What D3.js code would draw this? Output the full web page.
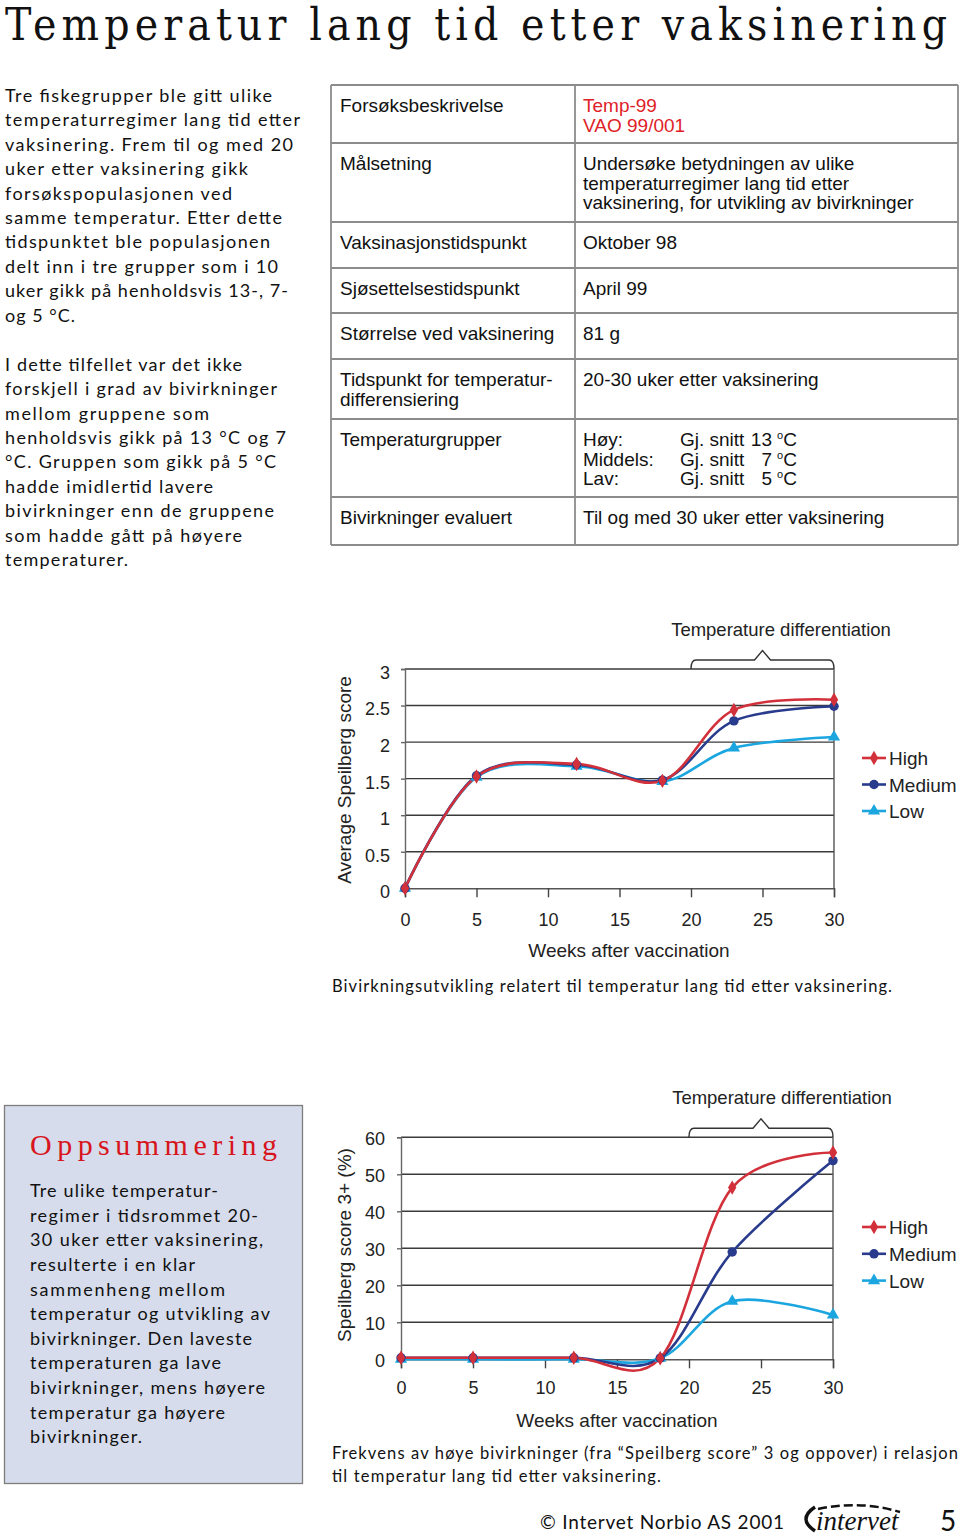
<!DOCTYPE html>
<html><head><meta charset="utf-8">
<script src="https://cdn.jsdelivr.net/npm/d3@7"></script>
<style>
html,body{margin:0;padding:0;background:#fff;}
svg{display:block;}
</style></head>
<body>
<script>
// ---------- DATA ----------
const seriesNames = ["High", "Medium", "Low"];
const weeks = [0, 5, 12, 18, 23, 30];
const scoreHigh = [0, 1.53, 1.70, 1.47, 2.44, 2.58];
const scoreMedium = [0, 1.54, 1.69, 1.48, 2.29, 2.49];
const scoreLow = [0, 1.52, 1.67, 1.46, 1.92, 2.07];
const pctHigh = [0.4, 0.4, 0.4, 0.3, 46.4, 55.9];
const pctMedium = [0.4, 0.4, 0.4, 0.3, 29.0, 53.7];
const pctLow = [0, 0, 0, 0.3, 15.7, 12.0];
const weekTicks = [0, 5, 10, 15, 20, 25, 30];
const scoreTicks = [0, 0.5, 1, 1.5, 2, 2.5, 3];
const pctTicks = [0, 10, 20, 30, 40, 50, 60];
const diffRange = [20, 30];

const titleText = "Temperatur lang tid etter vaksinering";
const introLines = [
  "Tre fiskegrupper ble gitt ulike", "temperaturregimer lang tid etter", "vaksinering. Frem til og med 20",
  "uker etter vaksinering gikk", "forsøkspopulasjonen ved", "samme temperatur. Etter dette",
  "tidspunktet ble populasjonen", "delt inn i tre grupper som i 10", "uker gikk på henholdsvis 13-, 7-",
  "og 5 °C.", "", "I dette tilfellet var det ikke", "forskjell i grad av bivirkninger",
  "mellom gruppene som", "henholdsvis gikk på 13 °C og 7", "°C. Gruppen som gikk på 5 °C",
  "hadde imidlertid lavere", "bivirkninger enn de gruppene", "som hadde gått på høyere", "temperaturer."
];
const introWidths = [267, 295, 288, 243, 227, 277, 265, 273, 283, 70, 0, 237, 272, 204, 281, 271, 208, 269, 237, 123];
const summaryTitle = "Oppsummering";
const summaryLines = [
  "Tre ulike temperatur-", "regimer i tidsrommet 20-", "30 uker etter vaksinering,", "resulterte i en klar",
  "sammenheng mellom", "temperatur og utvikling av", "bivirkninger. Den laveste", "temperaturen ga lave",
  "bivirkninger, mens høyere", "temperatur ga høyere", "bivirkninger."
];
const summaryWidths = [188, 228, 233, 165, 195, 240, 222, 191, 235, 195, 112];
const tableRows = [
  {left: ["Forsøksbeskrivelse"], right: ["Temp-99", "VAO 99/001"], red: true},
  {left: ["Målsetning"], right: ["Undersøke betydningen av ulike", "temperaturregimer lang tid etter", "vaksinering, for utvikling av bivirkninger"]},
  {left: ["Vaksinasjonstidspunkt"], right: ["Oktober 98"]},
  {left: ["Sjøsettelsestidspunkt"], right: ["April 99"]},
  {left: ["Størrelse ved vaksinering"], right: ["81 g"]},
  {left: ["Tidspunkt for temperatur-", "differensiering"], right: ["20-30 uker etter vaksinering"]},
  {left: ["Temperaturgrupper"], right: []},
  {left: ["Bivirkninger evaluert"], right: ["Til og med 30 uker etter vaksinering"]}
];
const tempGroups = [["Høy:", "13"], ["Middels:", "7"], ["Lav:", "5"]];
const caption1 = "Bivirkningsutvikling relatert til temperatur lang tid etter vaksinering.";
const caption2 = ["Frekvens av høye bivirkninger (fra “Speilberg score” 3 og oppover) i relasjon", "til temperatur lang tid etter vaksinering."];
const footerText = "© Intervet Norbio AS 2001";
const pageNo = "5";

// ---------- STYLE ----------
const colors = {High: "#d2303a", Medium: "#293b8c", Low: "#1ba6e0"};
const bodyFont = "Lato, 'Open Sans', sans-serif";
const chartFont = "'Liberation Sans', Arial, sans-serif";
const tableSize = 19;

const W = 960, H = 1539;
const svg = d3.select("body").append("svg").attr("width", W).attr("height", H);
svg.append("rect").attr("width", W).attr("height", H).attr("fill", "#fff");

function fitText(g, x, y, s, len, size, opts = {}) {
  const t = g.append("text").attr("x", x).attr("y", y).text(s)
    .attr("font-family", opts.family || bodyFont).attr("font-size", size)
    .attr("fill", opts.fill || "#111");
  if (len) t.attr("textLength", len).attr("lengthAdjust", "spacing");
  return t;
}

// Title
fitText(svg, 5, 40, titleText, 942, 44, {family: "'DejaVu Serif Condensed', 'DejaVu Serif', 'Liberation Serif', serif", fill: "#111"})
  .attr("font-stretch", "condensed");

// Intro text
introLines.forEach((l, i) => { if (l) fitText(svg, 5, 101.7 + i * 24.45, l, introWidths[i], 18); });

// Table
const tbl = svg.append("g");
const rowY = [85, 143, 222, 268, 313, 359, 419, 497, 545];
const tx0 = 331, tx1 = 958, tcol = 575;
tbl.selectAll("line.h").data(rowY).join("line")
  .attr("x1", tx0).attr("x2", tx1).attr("y1", d => d).attr("y2", d => d)
  .attr("stroke", "#8c8c8c").attr("stroke-width", 1.8);
[tx0, tcol, tx1].forEach(x => tbl.append("line").attr("x1", x).attr("x2", x)
  .attr("y1", rowY[0]).attr("y2", rowY[rowY.length - 1]).attr("stroke", "#8c8c8c").attr("stroke-width", 1.8));
function tText(x, y, s, fill) {
  return tbl.append("text").attr("x", x).attr("y", y).text(s)
    .attr("font-family", chartFont).attr("font-size", tableSize).attr("fill", fill || "#111");
}
tableRows.forEach((r, i) => {
  const y0 = rowY[i] + 27;
  r.left.forEach((s, j) => tText(340, y0 + j * 19.5, s));
  r.right.forEach((s, j) => tText(583, y0 + j * 19.5, s, r.red ? "#e02228" : "#111"));
});
tempGroups.forEach((g, j) => {
  const y = rowY[6] + 27 + j * 19.5;
  tText(583, y, g[0]);
  tText(680, y, "Gj. snitt");
  tText(772, y, g[1]).attr("text-anchor", "end");
  const t = tText(777, y, "");
  t.append("tspan").attr("font-size", 11).attr("dy", -7).text("o");
  t.append("tspan").attr("dy", 7).text("C");
});

// ---------- CHART helper ----------
function drawChart(cfg) {
  const g = svg.append("g");
  const x = d3.scaleLinear().domain([0, 30]).range(cfg.xr);
  const y = d3.scaleLinear().domain(cfg.ydom).range(cfg.yr);
  const top = cfg.yr[1], bot = cfg.yr[0];
  g.selectAll("line.grid").data(cfg.yticks.filter(v => v > cfg.ydom[0])).join("line")
    .attr("x1", cfg.xr[0]).attr("x2", cfg.xr[1]).attr("y1", d => y(d)).attr("y2", d => y(d))
    .attr("stroke", "#3a3a3a").attr("stroke-width", 1.4);
  g.append("line").attr("x1", cfg.xr[1]).attr("x2", cfg.xr[1]).attr("y1", top).attr("y2", bot)
    .attr("stroke", "#555").attr("stroke-width", 1.4);
  const xa = g.append("g").attr("transform", `translate(0,${bot})`)
    .call(d3.axisBottom(x).tickValues(weekTicks).tickSize(9).tickPadding(cfg.xpad).tickFormat(d3.format("d")));
  xa.select(".domain").attr("stroke", "#555").attr("stroke-width", 1.4);
  xa.selectAll(".tick line").attr("stroke", "#444").attr("stroke-width", 1.4);
  xa.selectAll(".tick text").attr("font-family", chartFont).attr("font-size", 18).attr("fill", "#222");
  const ya = g.append("g").attr("transform", `translate(${cfg.xr[0]},0)`)
    .call(d3.axisLeft(y).tickValues(cfg.yticks).tickSize(4).tickPadding(cfg.ypad).tickFormat(d => String(d)));
  ya.select(".domain").attr("stroke", "#666").attr("stroke-width", 1.4);
  ya.selectAll(".tick line").attr("stroke", "#666").attr("stroke-width", 1.4);
  ya.selectAll(".tick text").attr("font-family", chartFont).attr("font-size", 18).attr("fill", "#222").attr("dy", cfg.ydy);
  g.append("text").attr("transform", `translate(${cfg.ytitleX},${cfg.ytitleY}) rotate(-90)`)
    .attr("text-anchor", "middle").text(cfg.ytitle).attr("font-family", chartFont).attr("font-size", 19).attr("fill", "#222");
  g.append("text").attr("x", cfg.xtitleX).attr("y", cfg.xtitleY).attr("text-anchor", "middle")
    .text("Weeks after vaccination").attr("font-family", chartFont).attr("font-size", 19).attr("fill", "#222");
  const bx0 = x(diffRange[0]), bx1 = x(diffRange[1]), bm = (bx0 + bx1) / 2, by = top - 9, bp = top - 18.5;
  g.append("path").attr("d",
    `M${bx0},${top} Q${bx0},${by} ${bx0 + 5},${by} L${bm - 8},${by} L${bm},${bp} L${bm + 8},${by} L${bx1 - 5},${by} Q${bx1},${by} ${bx1},${top}`)
    .attr("fill", "none").attr("stroke", "#333").attr("stroke-width", 1.4);
  g.append("text").attr("x", cfg.brX).attr("y", top - 33).attr("text-anchor", "middle")
    .text("Temperature differentiation").attr("font-family", chartFont).attr("font-size", 18.5).attr("fill", "#222");
  const line = d3.line().x(d => x(d[0])).y(d => y(d[1])).curve(d3.curveCardinal.tension(0));
  const order = ["Low", "Medium", "High"];
  const sym = {High: d3.symbolDiamond, Medium: d3.symbolCircle, Low: d3.symbolTriangle};
  const symSize = {High: 60, Medium: 70, Low: 65};
  order.forEach(name => {
    const vals = cfg.data[name];
    const pts = weeks.map((w, i) => [w, vals[i]]);
    g.append("path").attr("d", line(pts)).attr("fill", "none").attr("stroke", colors[name]).attr("stroke-width", 2.6);
  });
  order.forEach(name => {
    const vals = cfg.data[name];
    g.selectAll(null).data(weeks.map((w, i) => [w, vals[i]])).join("path")
      .attr("transform", d => `translate(${x(d[0])},${y(d[1])})`)
      .attr("d", d3.symbol().type(sym[name]).size(symSize[name])).attr("fill", colors[name]);
  });
  seriesNames.forEach((name, i) => {
    const ly = cfg.legY + i * cfg.legStep;
    g.append("line").attr("x1", 862).attr("x2", 886).attr("y1", ly).attr("y2", ly).attr("stroke", colors[name]).attr("stroke-width", 2.6);
    g.append("path").attr("transform", `translate(874,${ly})`).attr("d", d3.symbol().type(sym[name]).size(symSize[name])).attr("fill", colors[name]);
    g.append("text").attr("x", 889).attr("y", ly + 7).text(name).attr("font-family", chartFont).attr("font-size", 19).attr("fill", "#222");
  });
}

drawChart({
  xr: [405, 834], ydom: [0, 3], yr: [888.3, 669], yticks: scoreTicks, ypad: 11, ydy: "0.52em", xpad: 16,
  ytitle: "Average Speilberg score", ytitleX: 351, ytitleY: 780,
  xtitleX: 629, xtitleY: 957, brX: 781,
  data: {High: scoreHigh, Medium: scoreMedium, Low: scoreLow},
  legY: 758, legStep: 26.5
});
fitText(svg, 332, 992, caption1, 560, 16.5);

drawChart({
  xr: [401, 833], ydom: [0, 60], yr: [1359.3, 1137.3], yticks: pctTicks, ypad: 12, ydy: "0.42em", xpad: 13,
  ytitle: "Speilberg score 3+ (%)", ytitleX: 351, ytitleY: 1245,
  xtitleX: 617, xtitleY: 1427, brX: 782,
  data: {High: pctHigh, Medium: pctMedium, Low: pctLow},
  legY: 1227, legStep: 26.8
});
fitText(svg, 332, 1459, caption2[0], 626, 16.5);
fitText(svg, 332, 1482, caption2[1], 329, 16.5);

// Summary box
svg.append("rect").attr("x", 4.5).attr("y", 1105.5).attr("width", 298).attr("height", 378)
  .attr("fill", "#d6dceb").attr("stroke", "#7d7d7d").attr("stroke-width", 1.3);
fitText(svg, 30, 1155, summaryTitle, 247, 30, {family: "'Liberation Serif', serif", fill: "#d8141c"});
summaryLines.forEach((l, i) => fitText(svg, 30, 1197 + i * 24.63, l, summaryWidths[i], 18));

// Footer
fitText(svg, 540, 1529, footerText, 244, 19);
svg.append("text").attr("x", 940).attr("y", 1531).text(pageNo).attr("font-family", bodyFont).attr("font-size", 28).attr("fill", "#111");
const logo = svg.append("g");
logo.append("path").attr("d", "M815,1507 Q797,1519 815,1531").attr("fill", "none").attr("stroke", "#111").attr("stroke-width", 3.5);
logo.append("path").attr("d", "M818,1509 Q860,1500 900,1512").attr("fill", "none").attr("stroke", "#111").attr("stroke-width", 2.5).attr("stroke-dasharray", "9 4");
logo.append("text").attr("x", 816).attr("y", 1530).text("intervet").attr("font-family", "'Liberation Serif', serif")
  .attr("font-style", "italic").attr("font-size", 27).attr("fill", "#111");
</script>
</body></html>
